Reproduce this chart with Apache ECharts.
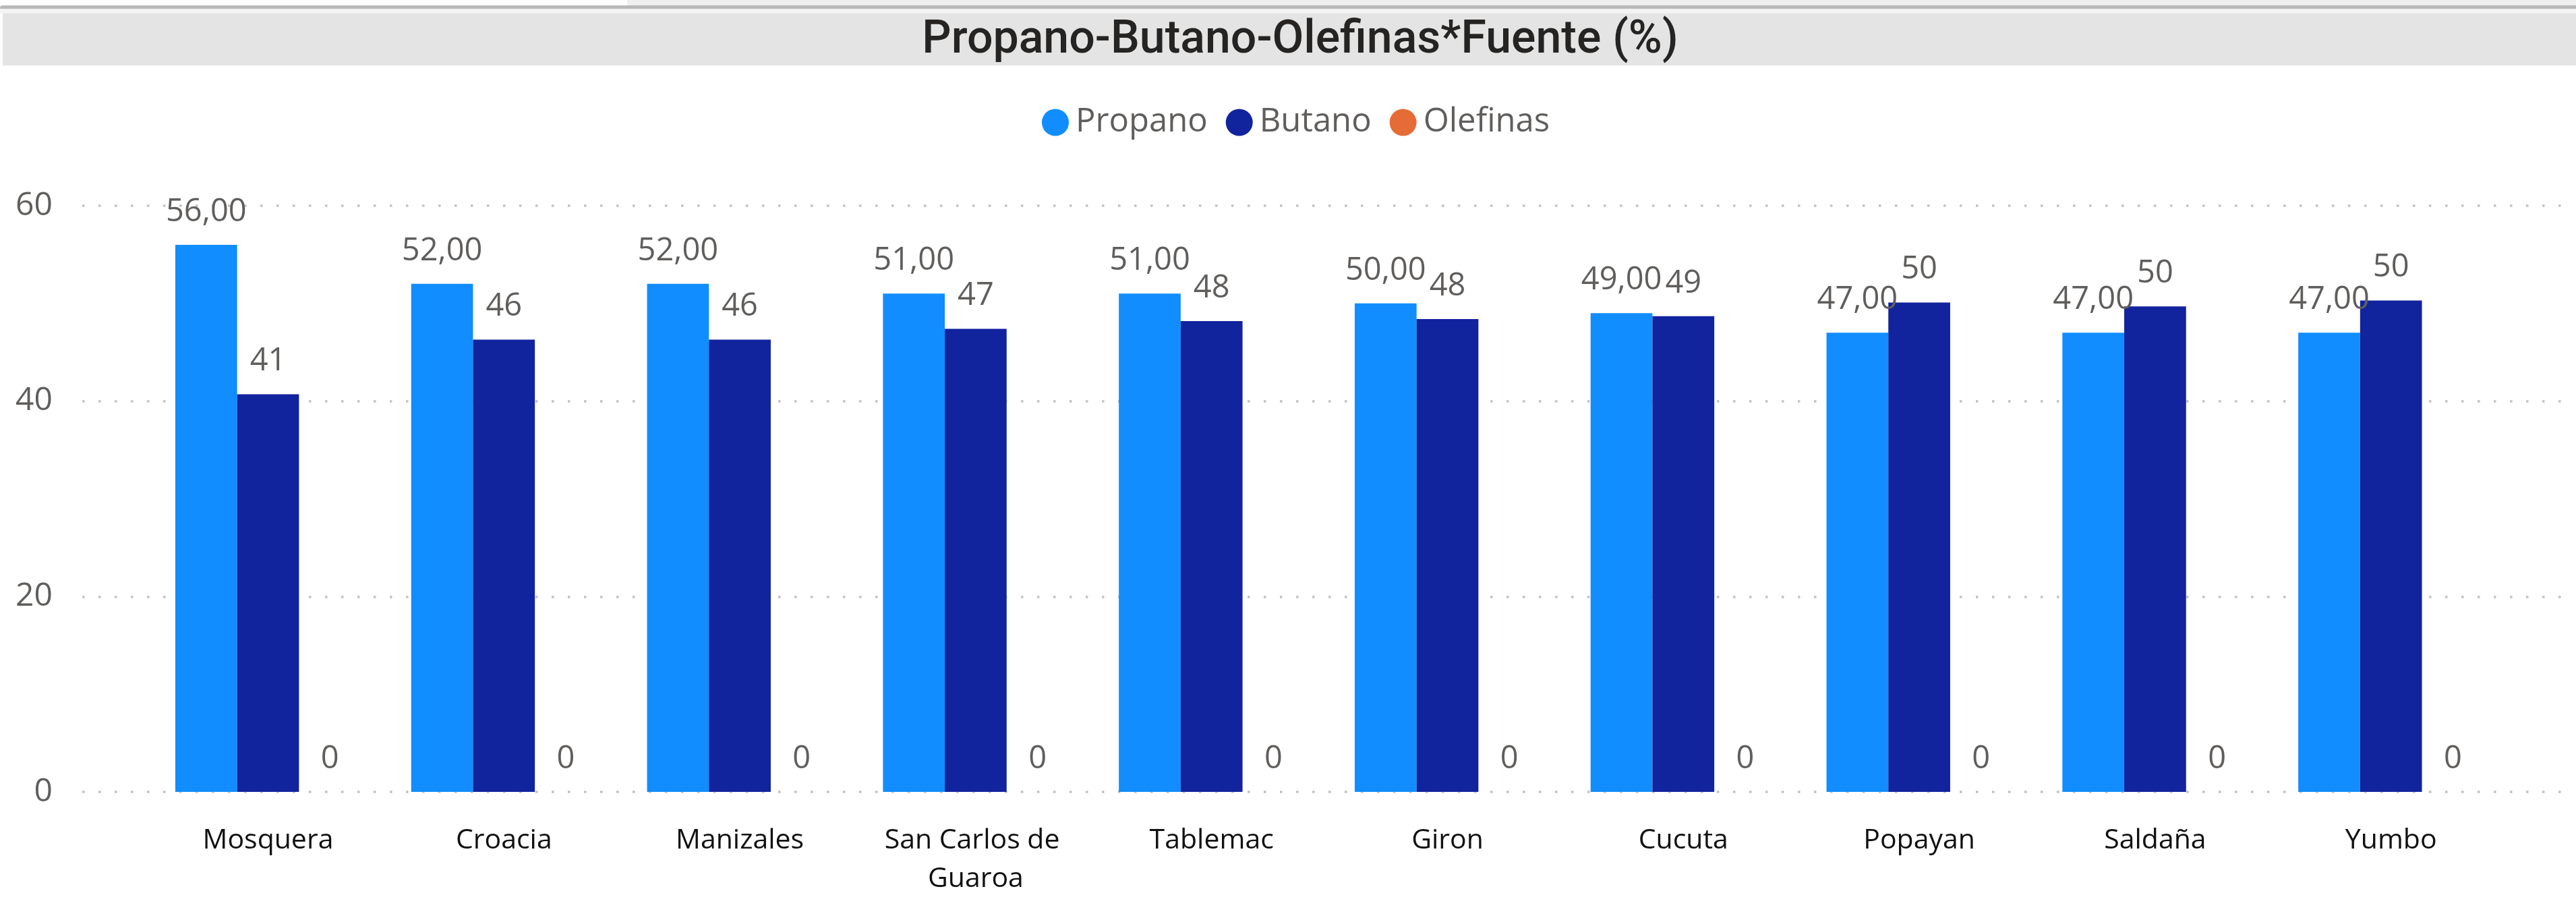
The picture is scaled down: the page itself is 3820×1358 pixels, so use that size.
<!DOCTYPE html>
<html>
<head>
<meta charset="utf-8">
<script src="https://cdn.jsdelivr.net/npm/echarts@6/dist/echarts.min.js"></script>
<style>
html,body{margin:0;padding:0;background:#fff;}
#chart{width:3820px;height:1358px;}
</style>
</head>
<body>
<div id="chart"></div>
<script>
var titleText = 'Propano-Butano-Olefinas*Fuente (%)';
var categories = ['Mosquera','Croacia','Manizales','San Carlos de Guaroa','Tablemac','Giron','Cucuta','Popayan','Saldaña','Yumbo'];
var propano = [56, 52, 52, 51, 51, 50, 49, 47, 47, 47];
var butano = [40.7, 46.3, 46.3, 47.4, 48.2, 48.4, 48.7, 50.1, 49.7, 50.3];
var olefinas = [0, 0, 0, 0, 0, 0, 0, 0, 0, 0];
var seriesNames = ['Propano', 'Butano', 'Olefinas'];
var yTicks = {min: 0, max: 60, interval: 20};

var FONT = '"Segoe UI", "Open Sans", sans-serif';
var GRAY = '#605e5c';

function fmt2(v){ return v.toFixed(2).replace('.', ','); }
function fmt0(v){ return String(Math.round(v)); }

var labelBase = {
  show: true, position: 'top', distance: 25,
  fontFamily: FONT, fontSize: 47, lineHeight: 47, color: GRAY
};

var chart = echarts.init(document.getElementById('chart'), null, {renderer: 'canvas'});
chart.setOption({
  backgroundColor: '#ffffff',
  animation: false,
  graphic: [
    {type: 'rect', shape: {x: 930, y: 0, width: 2890, height: 9}, style: {fill: '#efefef'}, z: 0},
    {type: 'rect', shape: {x: 0, y: 8, width: 3820, height: 5, r: [4,0,0,0]}, style: {fill: '#b9b9b9'}, z: 0},
    {type: 'rect', shape: {x: 0, y: 13, width: 3820, height: 7}, style: {fill: '#f3f3f3'}, z: 0},
    {type: 'rect', shape: {x: 4, y: 20, width: 3816, height: 77}, style: {fill: '#e4e4e4'}, z: 0},
    {type: 'text', x: 1928, y: 61, z: 10, style: {
      text: titleText, textAlign: 'center', textVerticalAlign: 'middle',
      font: '500 68px Roboto, "Open Sans", sans-serif', fill: '#252423'
    }}
  ],
  legend: {
    data: seriesNames,
    left: 1540, top: 152,
    icon: 'circle', itemWidth: 40, itemHeight: 40, itemGap: 27,
    textStyle: {fontFamily: FONT, fontSize: 49, color: GRAY, padding: [0,0,0,5]}
  },
  grid: [
    {left: 122, right: 3, top: 305, bottom: 184},
    {left: 222.6, width: 3498, top: 305, bottom: 184}
  ],
  xAxis: [
    {gridIndex: 0, type: 'value', min: 0, max: 1, show: false},
    {gridIndex: 1, type: 'category', data: categories,
     axisLine: {show: false}, axisTick: {show: false},
     axisLabel: {fontFamily: FONT, fontSize: 41, color: '#111', margin: 44,
       lineHeight: 57, width: 330, overflow: 'break', interval: 0}}
  ],
  yAxis: [
    {gridIndex: 0, type: 'value', min: yTicks.min, max: yTicks.max, interval: yTicks.interval,
     axisLine: {show: false}, axisTick: {show: false},
     axisLabel: {fontFamily: FONT, fontSize: 48, color: GRAY, margin: 44},
     splitLine: {show: true, lineStyle: {color: '#c4c2c0', width: 3.5, type: [3.5, 20.5]}}},
    {gridIndex: 1, type: 'value', min: yTicks.min, max: yTicks.max, interval: yTicks.interval, show: false,
     splitLine: {show: false}}
  ],
  series: [
    {name: seriesNames[0], type: 'bar', xAxisIndex: 1, yAxisIndex: 1, data: propano,
     barWidth: 91.7, barGap: '0%', itemStyle: {color: '#118DFF'},
     label: Object.assign({}, labelBase, {formatter: function(p){ return fmt2(p.value); }})},
    {name: seriesNames[1], type: 'bar', xAxisIndex: 1, yAxisIndex: 1, data: butano,
     barWidth: 91.7, barGap: '0%', itemStyle: {color: '#12239E'},
     label: Object.assign({}, labelBase, {formatter: function(p){ return fmt0(p.value); }})},
    {name: seriesNames[2], type: 'bar', xAxisIndex: 1, yAxisIndex: 1, data: olefinas,
     barWidth: 91.7, barGap: '0%', itemStyle: {color: '#E66C37'},
     label: Object.assign({}, labelBase, {formatter: function(p){ return fmt0(p.value); }})}
  ]
});
</script>
</body>
</html>
